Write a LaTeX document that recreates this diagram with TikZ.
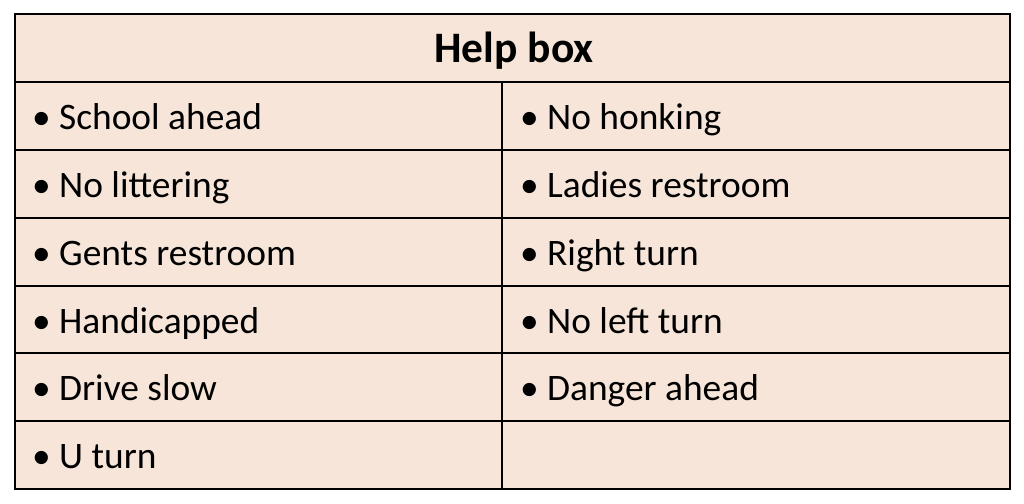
\documentclass[tikz,border=0pt]{standalone}
\usepackage{fontspec}
\setmainfont{Carlito}
\usepackage{xcolor}
\definecolor{boxpeach}{RGB}{246,229,216}
\tikzset{
  cellbox/.style={anchor=base west, font=\fontsize{37.4}{37.4}\selectfont, text=black, inner sep=0pt},
  titlebox/.style={anchor=base, font=\fontsize{43.5}{43.5}\selectfont\bfseries, text=black, inner sep=0pt}
}
\begin{document}
\begin{tikzpicture}[x=1pt,y=-1pt]
    % Margins
    \useasboundingbox (0,0) rectangle (1024,503);
    \fill[white] (0,0) rectangle (1024,503);

    % Table background
    \fill[boxpeach] (15,14) rectangle (1010,489);

    % Rules
    \draw[line width=1.4pt] (15,14) rectangle (1010,489);
    \foreach \y in {82,150,218,286,353,421}
        \draw[line width=1.2pt] (15,\y) -- (1010,\y);
    \draw[line width=1.2pt] (502,82) -- (502,489);

    % Title
    \node[titlebox] (title) at (514,63) {Help box};

    % Left column
    \foreach \y/\name/\txt in {129/a/School ahead,197/b/No littering,265/c/Gents restroom,333/d/Handicapped,400/e/Drive slow,468/f/U turn}
        \node[cellbox] (left\name) at (32,\y) {\makebox[27pt][l]{•}\txt};

    % Right column
    \foreach \y/\name/\txt in {129/a/No honking,197/b/Ladies restroom,265/c/Right turn,333/d/No left turn,400/e/Danger ahead}
        \node[cellbox] (right\name) at (520,\y) {\makebox[27pt][l]{•}\txt};
\end{tikzpicture}
\end{document}
